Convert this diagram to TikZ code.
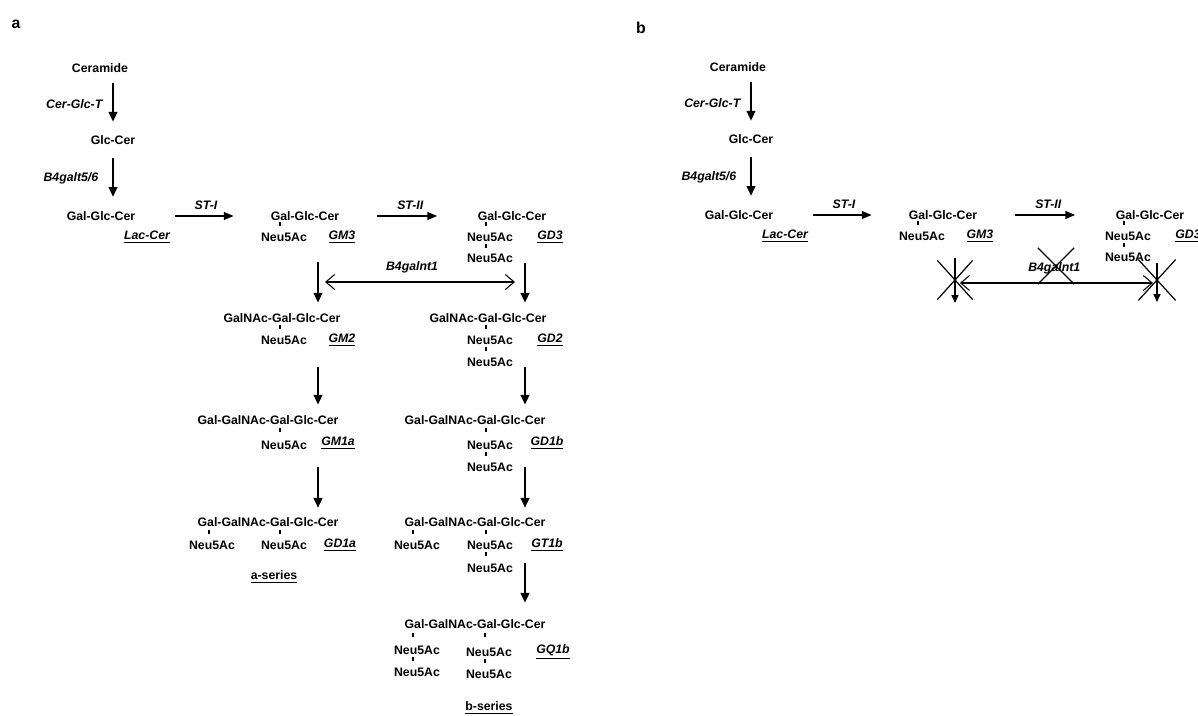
\documentclass[tikz,border=0pt]{standalone}
\usepackage{fontspec}
\setmainfont{Liberation Sans}
\usetikzlibrary{arrows.meta,shapes.misc}

\begin{document}
\begin{tikzpicture}[x=0.02cm, y=-0.02cm,
    main/.style = {inner sep=0pt, font=\fontsize{7}{8}\selectfont\bfseries},
    enz/.style = {inner sep=0pt, font=\fontsize{7}{8}\selectfont\bfseries\itshape},
    gname/.style = {inner sep=0pt, font=\fontsize{7}{8}\selectfont\bfseries\itshape},
    series/.style = {inner sep=0pt, font=\fontsize{7}{8}\selectfont\bfseries},
    panel/.style = {inner sep=0pt, font=\fontsize{9}{10}\selectfont\bfseries},
    tick/.style = {line width=0.9pt},
    down/.style = {line width=0.8pt, -{Triangle[length=5.5pt,width=5pt]}, shorten >=6pt},
    downb/.style = {line width=0.8pt, -{Triangle[length=4.5pt,width=4pt]}},
    side/.style = {line width=0.8pt, -{Triangle[length=5.5pt,width=4.5pt]}},
    both/.style = {line width=0.6pt, {Straight Barb[length=5pt,width=8.5pt]}-{Straight Barb[length=5pt,width=8.5pt]}},
    xout/.style = {draw, cross out, inner sep=0pt, line width=0.7pt}]

    \clip (0,0) rectangle (1198,716);

    % panel a
    \node[panel] (pa) at (16,24) {a};

    \node[main] (cer) at (100,68) {Ceramide};
    \node[main] (glc) at (113,140) {Glc-Cer};
    \node[main] (lac) at (101,216) {Gal-Glc-Cer};
    \node[gname] (lacl) at (147,237) {\underline{Lac-Cer}};

    \node[main] (gm3s) at (305,216) {Gal-Glc-Cer};
    \node[main] (gm3n) at (284,237) {Neu5Ac};
    \node[gname] (gm3l) at (342,237) {\underline{GM3}};

    \node[main] (gd3s) at (512,216) {Gal-Glc-Cer};
    \node[main] (gd3n1) at (490,237) {Neu5Ac};
    \node[main] (gd3n2) at (490,258) {Neu5Ac};
    \node[gname] (gd3l) at (550,237) {\underline{GD3}};

    \node[main] (gm2s) at (282,318) {GalNAc-Gal-Glc-Cer};
    \node[main] (gm2n) at (284,340) {Neu5Ac};
    \node[gname] (gm2l) at (342,340) {\underline{GM2}};

    \node[main] (gd2s) at (488,318) {GalNAc-Gal-Glc-Cer};
    \node[main] (gd2n1) at (490,340) {Neu5Ac};
    \node[main] (gd2n2) at (490,362) {Neu5Ac};
    \node[gname] (gd2l) at (550,340) {\underline{GD2}};

    \node[main] (gm1s) at (268,420) {Gal-GalNAc-Gal-Glc-Cer};
    \node[main] (gm1n) at (284,445) {Neu5Ac};
    \node[gname] (gm1l) at (338,443) {\underline{GM1a}};

    \node[main] (gd1bs) at (475,420) {Gal-GalNAc-Gal-Glc-Cer};
    \node[main] (gd1bn1) at (490,445) {Neu5Ac};
    \node[main] (gd1bn2) at (490,467) {Neu5Ac};
    \node[gname] (gd1bl) at (547,443) {\underline{GD1b}};

    \node[main] (gd1as) at (268,522) {Gal-GalNAc-Gal-Glc-Cer};
    \node[main] (gd1an1) at (212,545) {Neu5Ac};
    \node[main] (gd1an2) at (284,545) {Neu5Ac};
    \node[gname] (gd1al) at (340,545) {\underline{GD1a}};
    \node[series] (aser) at (274,577) {\underline{a-series}};

    \node[main] (gt1bs) at (475,522) {Gal-GalNAc-Gal-Glc-Cer};
    \node[main] (gt1bn1) at (417,545) {Neu5Ac};
    \node[main] (gt1bn2) at (490,545) {Neu5Ac};
    \node[main] (gt1bn3) at (490,568) {Neu5Ac};
    \node[gname] (gt1bl) at (547,545) {\underline{GT1b}};

    \node[main] (gq1bs) at (475,624) {Gal-GalNAc-Gal-Glc-Cer};
    \node[main] (gq1bn1) at (417,650) {Neu5Ac};
    \node[main] (gq1bn2) at (417,672) {Neu5Ac};
    \node[main] (gq1bn3) at (489,652) {Neu5Ac};
    \node[main] (gq1bn4) at (489,674) {Neu5Ac};
    \node[gname] (gq1bl) at (553,652) {\underline{GQ1b}};
    \node[series] (bser) at (489,708) {\underline{b-series}};

    \coordinate (acol) at (318,282);
    \coordinate (bcol) at (525,282);

    % links to Neu5Ac
    \draw[tick] (gm3s.south -| gm3n) ++(-4,1) -- ++(0,4);
    \draw[tick] (gd3s.south -| gd3n1) ++(-4,1) -- ++(0,4);
    \draw[tick] (gd3n1.south -| gd3n2) ++(-4,2) -- ++(0,4);
    \draw[tick] (gm2s.south -| gm2n) ++(-4,2) -- ++(0,4);
    \draw[tick] (gd2s.south -| gd2n1) ++(-4,2) -- ++(0,4);
    \draw[tick] (gd2n1.south -| gd2n2) ++(-4,2) -- ++(0,4);
    \draw[tick] (gm1s.south -| gm1n) ++(-4,3) -- ++(0,4);
    \draw[tick] (gd1bs.south -| gd1bn1) ++(-4,3) -- ++(0,4);
    \draw[tick] (gd1bn1.south -| gd1bn2) ++(-4,2) -- ++(0,4);
    \draw[tick] (gd1as.south -| gd1an1) ++(-3,3) -- ++(0,4);
    \draw[tick] (gd1as.south -| gd1an2) ++(-4,3) -- ++(0,4);
    \draw[tick] (gt1bs.south -| gt1bn1) ++(-4,3) -- ++(0,4);
    \draw[tick] (gt1bs.south -| gt1bn2) ++(-4,3) -- ++(0,4);
    \draw[tick] (gt1bn2.south -| gt1bn3) ++(-4,2) -- ++(0,4);
    \draw[tick] (gq1bs.south -| gq1bn1) ++(-4,4) -- ++(0,4);
    \draw[tick] (gq1bn1.south -| gq1bn2) ++(-4,2) -- ++(0,4);
    \draw[tick] (gq1bs.south -| gq1bn3) ++(-4,4) -- ++(0,4);
    \draw[tick] (gq1bn3.south -| gq1bn4) ++(-4,2) -- ++(0,4);

    \draw[down, shorten <=6pt, shorten >=7.7pt] (cer.south -| glc) -- node[enz, left=5.7pt] {Cer-Glc-T} (glc.north);
    \draw[down, shorten <=7.7pt, shorten >=8.2pt] (glc.south) -- node[enz, left=8pt] {B4galt5/6} (glc.south |- lac.north);

    \draw[side, shorten <=22.5pt, shorten >=21pt] (lac) -- node[enz, above=3.5pt, xshift=1.7pt] {ST-I} (gm3s);
    \draw[side, shorten <=21.4pt, shorten >=23pt] (gm3s) -- node[enz, above=3.5pt, xshift=1pt] {ST-II} (gd3s);

    \draw[down, shorten <=11.6pt] (gm3n.south -| acol) -- (gm2s.north -| acol);
    \draw[down] (gd3n2.south -| bcol) -- (gd2s.north -| bcol);
    \draw[both, shorten <=4pt, shorten >=5.7pt] (acol) -- node[enz, above=4.8pt, xshift=-5.4pt] {B4galnt1} (bcol);

    \draw[down, shorten <=12.8pt] (gm2n.south -| acol) -- (gm1s.north -| acol);
    \draw[down] (gd2n2.south -| bcol) -- (gd1bs.north -| bcol);
    \draw[down, shorten <=10pt, shorten >=5.4pt] (gm1n.south -| acol) -- (gd1as.north -| acol);
    \draw[down, shorten >=5.4pt] (gd1bn2 -| bcol) -- (gt1bs.north -| bcol);
    \draw[down, shorten >=9.4pt] (gt1bn3.north -| bcol) -- (gq1bs.north -| bcol);

    % panel b
    \node[panel] (pb) at (641,28) {b};

    \begin{scope}[shift={(638,-1)}]
    \node[main] (bcer) at (100,68) {Ceramide};
    \node[main] (bglc) at (113,140) {Glc-Cer};
    \node[main] (blac) at (101,216) {Gal-Glc-Cer};
    \node[gname] (blacl) at (147,237) {\underline{Lac-Cer}};

    \node[main] (bgm3s) at (305,216) {Gal-Glc-Cer};
    \node[main] (bgm3n) at (284,237) {Neu5Ac};
    \node[gname] (bgm3l) at (342,237) {\underline{GM3}};

    \node[main] (bgd3s) at (512,216) {Gal-Glc-Cer};
    \node[main] (bgd3n1) at (490,237) {Neu5Ac};
    \node[main] (bgd3n2) at (490,258) {Neu5Ac};
    \node[gname] (bgd3l) at (550,237) {\underline{GD3}};

    \coordinate (bacol) at (317,284);
    \coordinate (bbcol) at (519,284);
    \coordinate (bend1) at (317,304);
    \coordinate (bend2) at (519,303);

    \draw[tick] (bgm3s.south -| bgm3n) ++(-4,1) -- ++(0,4);
    \draw[tick] (bgd3s.south -| bgd3n1) ++(-4,1) -- ++(0,4);
    \draw[tick] (bgd3n1.south -| bgd3n2) ++(-4,2) -- ++(0,4);

    \draw[down, shorten <=6pt, shorten >=7.7pt] (bcer.south -| bglc) -- node[enz, left=5.7pt] {Cer-Glc-T} (bglc.north);
    \draw[down, shorten <=7.7pt, shorten >=8.2pt] (bglc.south) -- node[enz, left=8pt] {B4galt5/6} (bglc.south |- blac.north);

    \draw[side, shorten <=22.5pt, shorten >=21pt] (blac) -- node[enz, above=3.5pt, xshift=1.7pt] {ST-I} (bgm3s);
    \draw[side, shorten <=21.4pt, shorten >=23pt] (bgm3s) -- node[enz, above=3.5pt, xshift=1pt] {ST-II} (bgd3s);

    \draw[downb, shorten <=10pt] (bgm3n.south -| bacol) -- (bend1);
    \draw[downb, shorten <=1pt] (bgd3n2.south -| bbcol) -- (bend2);
    \draw[both, shorten <=2.8pt, shorten >=2.3pt] (bacol) -- node[enz, above=4.8pt, xshift=-1pt] {B4galnt1} (bbcol);

    % blocked steps
    \node[xout, minimum width=19.3pt, minimum height=21.5pt] (bx1) at (317,281) {};
    \node[xout, minimum width=20pt, minimum height=20pt] (bx2) at (418,267) {};
    \node[xout, minimum width=20.5pt, minimum height=22.5pt] (bx3) at (519,281) {};
    \end{scope}

\end{tikzpicture}
\end{document}
